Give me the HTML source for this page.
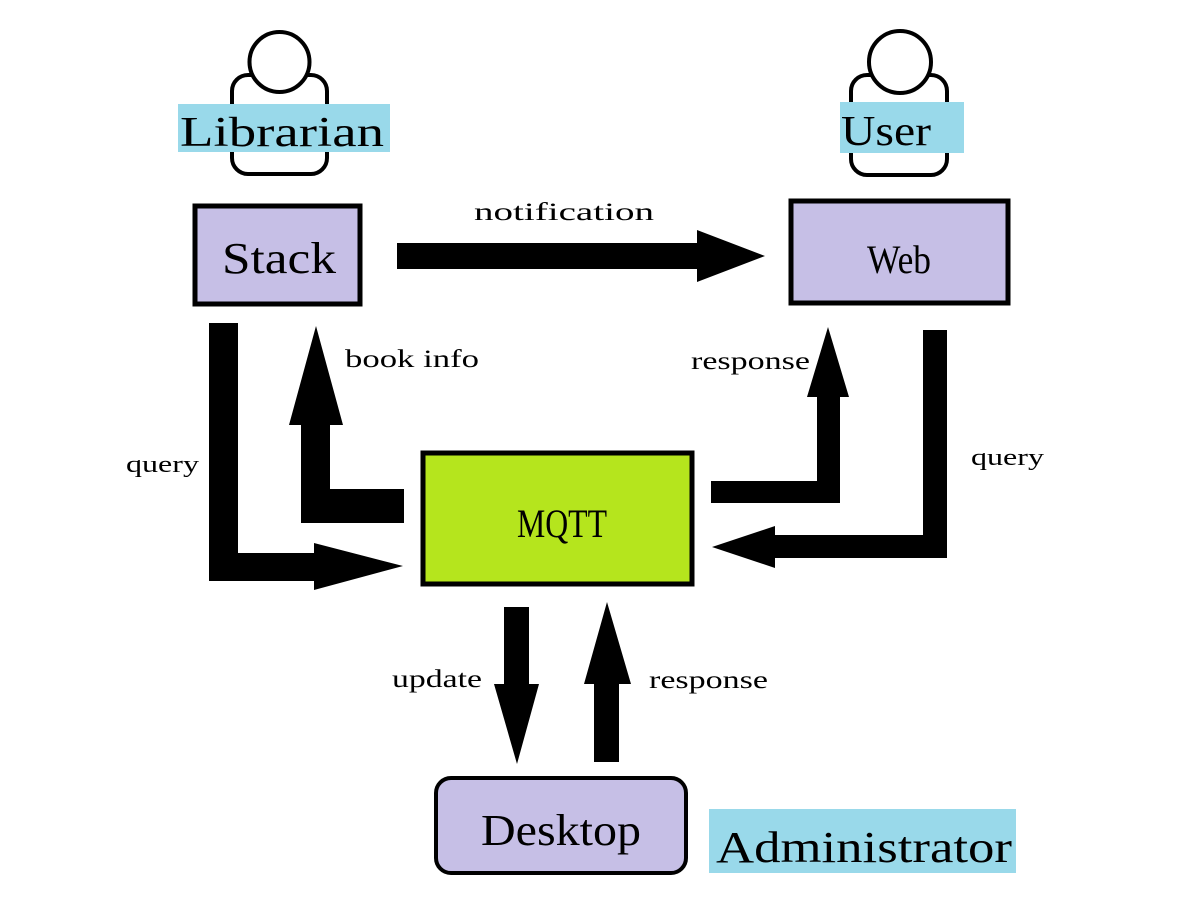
<!DOCTYPE html>
<html><head><meta charset="utf-8"><style>
html,body{margin:0;padding:0;background:#fff;}
svg{display:block;}
text{font-family:"Liberation Serif","Noto Serif CJK SC",serif;fill:#000;}
</style></head><body>
<svg width="1201" height="904" viewBox="0 0 1201 904" xmlns="http://www.w3.org/2000/svg">
<rect width="1201" height="904" fill="#fff"/>
<!-- Librarian actor -->
<rect x="232" y="75" width="95" height="99" rx="16" fill="none" stroke="#000" stroke-width="4"/>
<circle cx="279.5" cy="62" r="30" fill="#fff" stroke="#000" stroke-width="4"/>
<rect x="178" y="104" width="212" height="48" fill="#99d9ea"/>
<text x="180" y="146" font-size="42" textLength="204" lengthAdjust="spacingAndGlyphs">Librarian</text>
<!-- User actor -->
<rect x="851" y="75" width="96" height="100" rx="16" fill="none" stroke="#000" stroke-width="4"/>
<circle cx="900" cy="62" r="31" fill="#fff" stroke="#000" stroke-width="4"/>
<rect x="840" y="102" width="124" height="51" fill="#99d9ea"/>
<text x="841" y="145" font-size="42" textLength="90" lengthAdjust="spacingAndGlyphs">User</text>
<!-- Stack -->
<rect x="195" y="206" width="165" height="98" fill="#c6bfe6" stroke="#000" stroke-width="5"/>
<text x="222" y="273" font-size="44" textLength="114" lengthAdjust="spacingAndGlyphs">Stack</text>
<!-- Web -->
<rect x="791" y="201" width="217" height="102" fill="#c6bfe6" stroke="#000" stroke-width="5"/>
<text x="867" y="273" font-size="40" textLength="64" lengthAdjust="spacingAndGlyphs">Web</text>
<!-- MQTT -->
<rect x="423" y="453" width="269" height="131" fill="#b5e51d" stroke="#000" stroke-width="5"/>
<text x="517" y="537" font-size="40" textLength="90" lengthAdjust="spacingAndGlyphs">MQTT</text>
<!-- Desktop -->
<rect x="436" y="778" width="250" height="95" rx="15" fill="#c6bfe6" stroke="#000" stroke-width="4"/>
<text x="481" y="845" font-size="44" textLength="160" lengthAdjust="spacingAndGlyphs">Desktop</text>
<!-- Administrator -->
<rect x="709" y="809" width="307" height="64" fill="#99d9ea"/>
<text x="716" y="862" font-size="44" textLength="296" lengthAdjust="spacingAndGlyphs">Administrator</text>

<!-- notification arrow -->
<polygon points="397,243 697,243 697,230 765,256 697,282 697,269 397,269" fill="#000"/>
<text x="474" y="220" font-size="25" textLength="180" lengthAdjust="spacingAndGlyphs">notification</text>
<!-- left query -->
<polygon points="209,323 238,323 238,553 314,553 314,543 403,566 314,590 314,581 209,581" fill="#000"/>
<text x="126" y="472" font-size="24" textLength="73" lengthAdjust="spacingAndGlyphs">query</text>
<!-- book info -->
<polygon points="404,489 404,523 301,523 301,425 289,425 316,326 343,425 330,425 330,489" fill="#000"/>
<text x="345" y="367" font-size="25" textLength="134" lengthAdjust="spacingAndGlyphs">book info</text>
<!-- right response -->
<polygon points="711,481 817,481 817,397 807,397 828,327 849,397 840,397 840,503 711,503" fill="#000"/>
<text x="691" y="369" font-size="25" textLength="119" lengthAdjust="spacingAndGlyphs">response</text>
<!-- right query -->
<polygon points="923,330 947,330 947,558 775,558 775,568 712,547 775,526 775,535 923,535" fill="#000"/>
<text x="971" y="465" font-size="24" textLength="73" lengthAdjust="spacingAndGlyphs">query</text>
<!-- update -->
<polygon points="504,607 529,607 529,684 539,684 517,764 494,684 504,684" fill="#000"/>
<text x="392" y="687" font-size="25" textLength="90" lengthAdjust="spacingAndGlyphs">update</text>
<!-- bottom response -->
<polygon points="594,762 619,762 619,684 631,684 607,602 584,684 594,684" fill="#000"/>
<text x="649" y="688" font-size="25" textLength="119" lengthAdjust="spacingAndGlyphs">response</text>
</svg>
</body></html>
